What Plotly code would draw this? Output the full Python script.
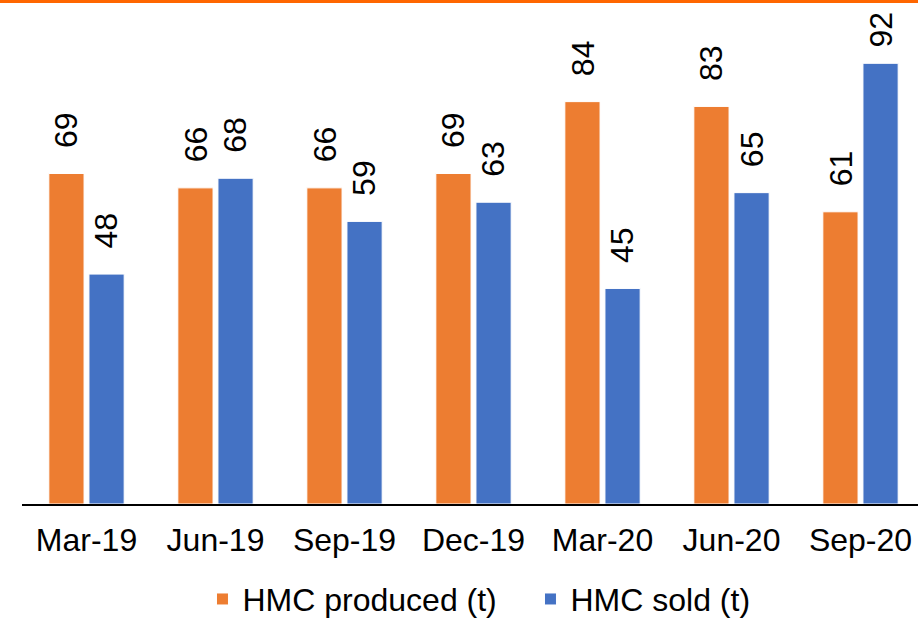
import plotly.graph_objects as go

categories = ["Mar-19", "Jun-19", "Sep-19", "Dec-19", "Mar-20", "Jun-20", "Sep-20"]
produced = [69, 66, 66, 69, 84, 83, 61]
sold = [48, 68, 59, 63, 45, 65, 92]
series_names = ["HMC produced (t)", "HMC sold (t)"]

ORANGE = "#ED7D31"
BLUE = "#4472C4"
FONT = "Arial, Liberation Sans, sans-serif"
FS = 32

W, Hpage = 918, 619
ML, MR, MT, MB = 22, 0, 25, 115
YMAX = 100
plot_h = Hpage - MT - MB

fig = go.Figure()
fig.add_trace(go.Bar(x=categories, y=produced, name=series_names[0],
                     marker=dict(color=ORANGE, line=dict(color="white", width=1))))
fig.add_trace(go.Bar(x=categories, y=sold, name=series_names[1],
                     marker=dict(color=BLUE, line=dict(color="white", width=1))))

# data labels, rotated, above each bar
slot_px = 20
for vals, sign in ((produced, -1), (sold, 1)):
    for c, v in zip(categories, vals):
        top_px = MT + (YMAX - v) * plot_h / YMAX
        shift = min(23, top_px - 12 - 38)
        fig.add_annotation(x=c, y=v, xref="x", yref="y", text=str(v),
                           textangle=-90, showarrow=False, yanchor="bottom",
                           xshift=sign * slot_px, yshift=shift,
                           font=dict(family=FONT, size=FS, color="#000000"))

# orange strip across the top of the page
fig.add_shape(type="rect", xref="paper", yref="paper", ysizemode="pixel", yanchor=1,
              x0=-0.1, x1=1.1, y0=MT - 3, y1=MT + 5,
              fillcolor="#FF6600", line=dict(width=0), layer="above")

fig.update_layout(
    template="none",
    width=W, height=Hpage,
    margin=dict(l=ML, r=MR, t=MT, b=MB, pad=0, autoexpand=False),
    paper_bgcolor="white", plot_bgcolor="white",
    barmode="group", bargap=0.378, bargroupgap=0.122,
    font=dict(family=FONT, size=FS, color="#000000"),
    showlegend=True,
    legend=dict(orientation="h", x=0.5675, xanchor="center", y=-0.1987, yanchor="middle",
                font=dict(family=FONT, size=FS, color="#000000"),
                bgcolor="rgba(0,0,0,0)",
                entrywidth=283, itemclick=False, traceorder="normal"),
    xaxis=dict(range=[-0.5, -0.5 + (W - ML - MR) / 129.0], showline=True,
               linecolor="#000000", linewidth=2, ticks="", showgrid=False,
               zeroline=False, automargin=False, ticklabelstandoff=7,
               tickfont=dict(family=FONT, size=FS, color="#000000")),
    yaxis=dict(range=[0, YMAX], visible=False, showgrid=False, zeroline=False,
               automargin=False),
)

fig.write_html("out.html", config={"displayModeBar": False},
               post_script="document.body.style.margin='0';document.body.style.padding='0';document.body.style.overflow='hidden';")
